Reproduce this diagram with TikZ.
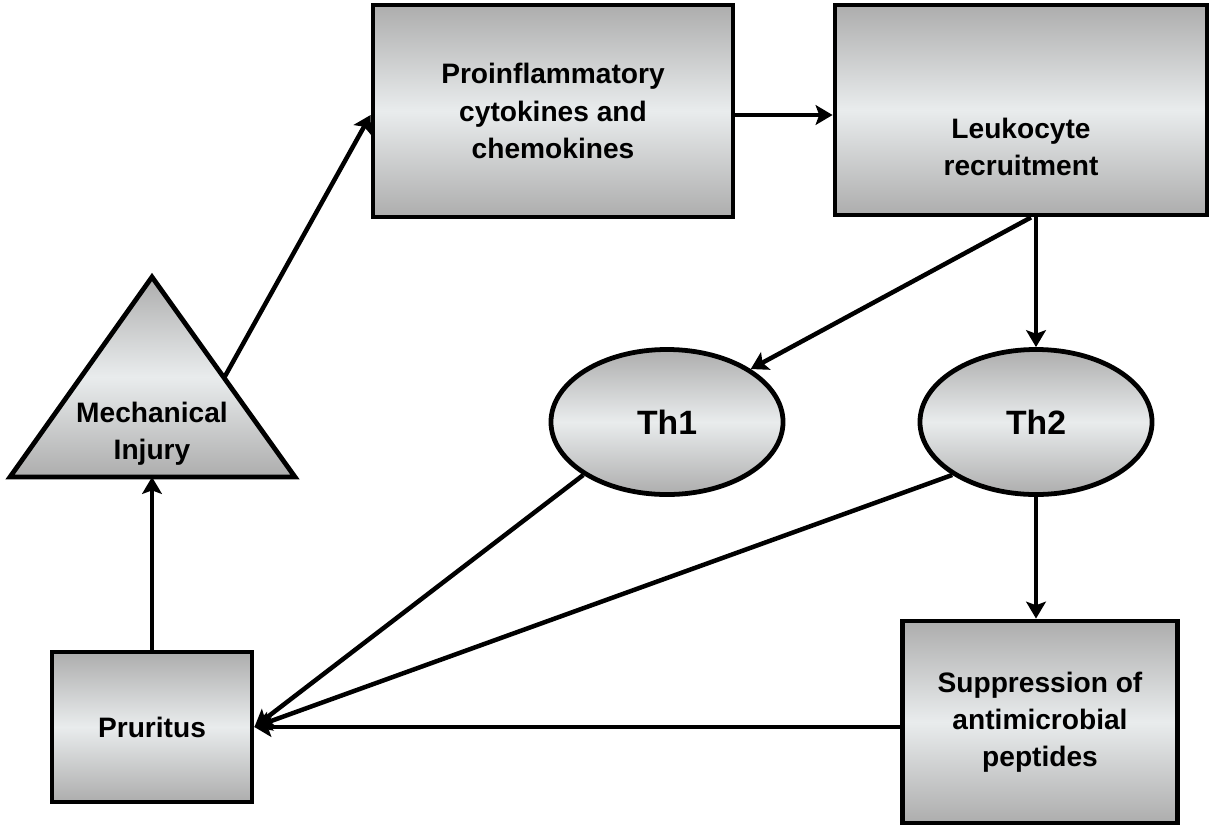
\documentclass[tikz,border=0pt]{standalone}
\usepackage{fontspec}
\setmainfont{Liberation Sans}
\usetikzlibrary{arrows.meta,calc,shapes.geometric}
\definecolor{shadeg}{HTML}{ADADAD}
\definecolor{shadel}{HTML}{E9ECED}
\tikzset{
  shaded/.style={draw=black, line width=3.4pt, top color=shadeg, bottom color=shadeg, middle color=shadel},
  box/.style={shaded, rectangle, inner sep=0pt, align=center,
    font=\fontsize{20}{26.5}\selectfont\bfseries},
  oval/.style={shaded, ellipse, inner sep=0pt, minimum width=5.8cm, minimum height=3.625cm,
    font=\fontsize{24}{26}\selectfont\bfseries},
  lbl/.style={align=center, font=\fontsize{20}{26.5}\selectfont\bfseries, inner sep=0pt},
  conn/.style={line width=3.2pt, -{Stealth[length=12pt,width=14pt,inset=2.5pt]}},
}
\begin{document}
\begin{tikzpicture}[x=0.025cm,y=-0.025cm]
\useasboundingbox (0,0) rectangle (1214,829);
% triangle
\path[shaded, line join=miter] (10,477) -- (152,277) -- (295,477) -- cycle;
\coordinate (trib) at (152,477);
\coordinate (trir) at (224,378);
\node[lbl] (mech) at (152,434) {Mechanical\\Injury};
% boxes
\node[box, minimum width=9cm, minimum height=5.3cm] (pro) at (553,111) {Proinflammatory\\cytokines and\\chemokines};
\node[box, minimum width=9.3cm, minimum height=5.25cm] (leu) at (1021,110) {};
\node[lbl] (leut) at (1021,147) {Leukocyte\\recruitment};
\node[oval] (th1) at (667,422) {Th1};
\node[oval] (th2) at (1036,422) {Th2};
\node[box, minimum width=5cm, minimum height=3.75cm] (pru) at (152,727) {Pruritus};
\node[box, minimum width=6.875cm, minimum height=5.05cm] (sup) at (1040,722) {Suppression of\\antimicrobial\\peptides};
% connectors
\draw[conn] (trir) -- ([yshift=-0.1cm]pro.west);
\draw[conn] ([yshift=-0.1cm]pro.east) -- ([yshift=-0.1cm]pro.east -| leu.west);
\draw[conn] (th2.north |- leu.south) -- (th2.north);
\draw[conn] ([xshift=0.25cm]leu.south) -- (th1.north east);
\draw[conn] (th2.south) -- (th2.south |- sup.north);
\draw[conn] (th1.south west) -- (pru.east);
\draw[conn] (th2.south west) -- (pru.east);
\draw[conn] (sup.west |- pru.east) -- (pru.east);
\draw[conn] (pru.north) -- (trib);
\end{tikzpicture}
\end{document}
